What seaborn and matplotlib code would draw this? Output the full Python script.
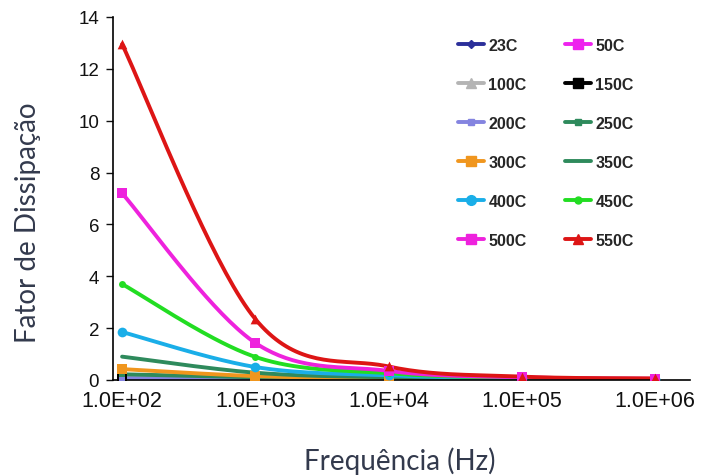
import numpy as np
import pandas as pd
import matplotlib
matplotlib.use("Agg")
import matplotlib.pyplot as plt
from matplotlib.lines import Line2D
import seaborn as sns

sns.set_theme(style="white")
plt.rcParams["font.family"] = ["Liberation Sans", "DejaVu Sans"]

# Measurement frequencies (Hz) and their axis labels
frequencies = [1e2, 1e3, 1e4, 1e5, 1e6]
freq_labels = ["1.0E+02", "1.0E+03", "1.0E+04", "1.0E+05", "1.0E+06"]

# Dissipation factor per temperature
temperatures = ["23C", "50C", "100C", "150C", "200C", "250C",
                "300C", "350C", "400C", "450C", "500C", "550C"]
df_23 = [0.03, 0.02, 0.02, 0.02, 0.02]
df_50 = [0.05, 0.03, 0.02, 0.02, 0.02]
df_100 = [0.10, 0.05, 0.03, 0.02, 0.02]
df_150 = [0.04, 0.03, 0.02, 0.02, 0.02]
df_200 = [0.07, 0.04, 0.03, 0.02, 0.02]
df_250 = [0.22, 0.10, 0.05, 0.03, 0.02]
df_300 = [0.42, 0.15, 0.06, 0.03, 0.02]
df_350 = [0.90, 0.28, 0.10, 0.04, 0.03]
df_400 = [1.85, 0.50, 0.18, 0.06, 0.03]
df_450 = [3.70, 0.89, 0.26, 0.08, 0.04]
df_500 = [7.20, 1.43, 0.35, 0.10, 0.05]
df_550 = [12.95, 2.35, 0.52, 0.13, 0.06]
series = [df_23, df_50, df_100, df_150, df_200, df_250,
          df_300, df_350, df_400, df_450, df_500, df_550]

colors = ["#2b2f9a", "#ee22ee", "#b4b4b4", "#000000", "#8484e0", "#2e8a5c",
          "#f0961e", "#2e8a5c", "#1aaee8", "#22dd22", "#ee22dd", "#dd1515"]
markers = ["D", "s", "^", "s", "s", "s", "s", None, "o", "o", "s", "^"]
msizes = [4, 7, 7, 7, 5, 5, 7, 0, 7, 5, 7, 7]


def smooth(xs, ys, n=40):
    """Catmull-Rom curve through the points, in log-frequency space."""
    lx = np.log10(xs)
    pts = np.column_stack([lx, ys])
    ext = np.vstack([pts[0], pts, pts[-1]])
    out = []
    for i in range(1, len(ext) - 2):
        p0, p1, p2, p3 = ext[i - 1], ext[i], ext[i + 1], ext[i + 2]
        c1 = p1 + (p2 - p0) / 6
        c2 = p2 - (p3 - p1) / 6
        t = np.linspace(0, 1, n)[:, None]
        seg = ((1 - t) ** 3 * p1 + 3 * (1 - t) ** 2 * t * c1
               + 3 * (1 - t) * t ** 2 * c2 + t ** 3 * p2)
        out.append(seg if i == 1 else seg[1:])
    curve = np.vstack(out)
    return 10 ** curve[:, 0], curve[:, 1]


fig = plt.figure(figsize=(7.02, 4.77), dpi=100)
ax = fig.add_axes([0.161, 0.2013, 0.822, 0.761])

handles = []
for name, vals, c, m, ms in zip(temperatures, series, colors, markers, msizes):
    cx, cy = smooth(frequencies, vals)
    curve = pd.DataFrame({"f": cx, "v": cy})
    sns.lineplot(data=curve, x="f", y="v", color=c, linewidth=2.8,
                 sort=False, estimator=None, ax=ax, zorder=2)
    if m is not None:
        pts = pd.DataFrame({"f": frequencies, "v": vals})
        sns.scatterplot(data=pts, x="f", y="v", color=c, marker=m,
                        s=ms ** 2, edgecolor=c, linewidth=0, ax=ax, zorder=3)
    handles.append(Line2D([], [], color=c, lw=2.8, marker=m, markersize=ms))

ax.set_xscale("log")
ax.set_xlim(10 ** 1.932, 10 ** 6.263)
ax.set_ylim(0, 14)
ax.set_yticks(range(0, 15, 2))
ax.set_xticks(frequencies)
ax.set_xticklabels(freq_labels)
ax.minorticks_off()
ax.tick_params(axis="x", length=0, pad=7, labelsize=15.5, colors="#111111")
ax.tick_params(axis="y", length=5, width=1, direction="out", pad=5,
               labelsize=13.5, colors="#111111", left=True)

for side in ["top", "right"]:
    ax.spines[side].set_visible(False)
for side in ["left", "bottom"]:
    ax.spines[side].set_color("#000000")
    ax.spines[side].set_linewidth(1.2)

ax.set_xlabel("Frequência (Hz)", fontsize=20, color="#333a4d",
              family=["Lato", "DejaVu Sans"], va="top")
ax.xaxis.set_label_coords(0.497, -0.183)
ax.set_ylabel("Fator de Dissipação", fontsize=20, color="#333a4d",
              family=["Lato", "DejaVu Sans"])
ax.yaxis.set_label_coords(-0.125, 0.437)

order = [0, 2, 4, 6, 8, 10, 1, 3, 5, 7, 9, 11]
leg = fig.legend([handles[i] for i in order], [temperatures[i] for i in order],
                 ncol=2, loc="upper left",
                 bbox_to_anchor=(458 / 702, 1 - 39 / 477),
                 bbox_transform=fig.transFigure,
                 frameon=False, borderpad=0, borderaxespad=0,
                 handlelength=1.65, handletextpad=0.25,
                 columnspacing=2.4, labelspacing=1.5,
                 prop={"weight": "bold", "size": 11.5})

fig.savefig("out.png", dpi=100)
